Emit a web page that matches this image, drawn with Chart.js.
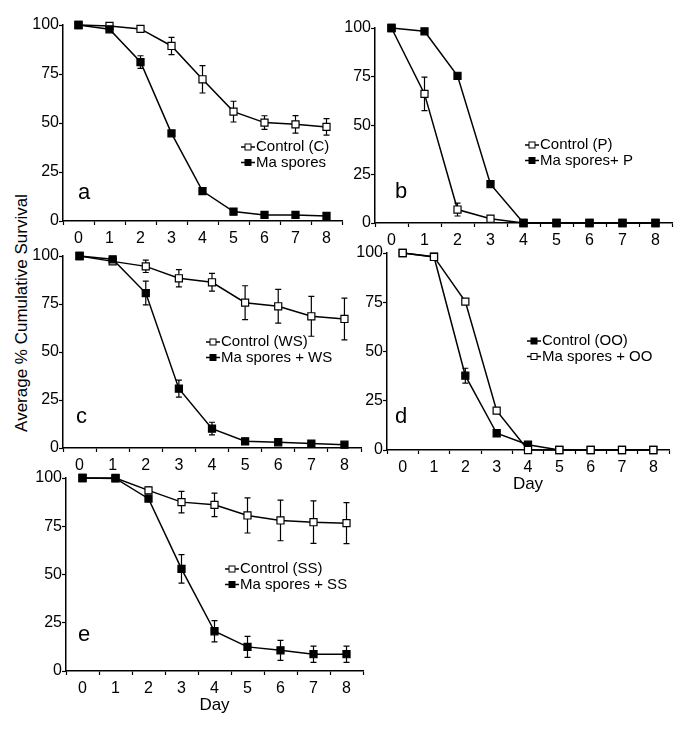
<!DOCTYPE html>
<html>
<head>
<meta charset="utf-8">
<title>Average % Cumulative Survival</title>
<script src="https://cdn.jsdelivr.net/npm/chart.js"></script>
<style>
  body { margin: 0; width: 685px; height: 735px; overflow: hidden; background: #fff; position: relative;
         font-family: 'Liberation Sans', Arial, sans-serif; }
  canvas { position: absolute; }
  #ylabel { position: absolute; left: 22px; top: 313px; transform: translate(-50%, -50%) rotate(-90deg);
            font-size: 17px; white-space: nowrap; color: #000; }
</style>
</head>
<body>
<div id="ylabel">Average % Cumulative Survival</div>
<script>
// days on the x axis
const days = ['0', '1', '2', '3', '4', '5', '6', '7', '8'];

// panel a
const controlC      = [100, 99.5, 98, 89.3, 72.3, 55.8, 50.2, 49.3, 48.0];
const controlCErr   = [0.5, 0.8, 1, 4.4, 7, 5.3, 3.5, 4.5, 4.2];
const maSpores      = [100, 97.8, 81.1, 44.7, 15.3, 4.8, 3.1, 3.1, 2.6];
const maSporesErr   = [0.5, 1, 3.2, 1, 1.5, 1.5, 1, 1, 1];

// panel b
const controlP      = [100, 66.2, 6.9, 2.2, 0, 0, 0, 0, 0];
const controlPErr   = [0, 8.6, 3.3, 1.5, 0, 0, 0, 0, 0];
const maSporesP     = [100, 98.3, 75.5, 19.9, 0, 0, 0, 0, 0];
const maSporesPErr  = [0.5, 0.8, 1.2, 1.5, 0, 0, 0, 0, 0];

// panel c
const controlWS     = [100, 97.2, 94.6, 88.4, 86.3, 75.7, 73.8, 68.6, 67.2];
const controlWSErr  = [0.5, 1, 3.2, 4.5, 4.6, 8.8, 8.8, 10.4, 10.9];
const maSporesWS    = [100, 98.3, 80.7, 30.9, 10.1, 3.5, 3.0, 2.3, 1.7];
const maSporesWSErr = [0.5, 0.8, 6.2, 4.4, 3.3, 1.5, 0.8, 1, 1];

// panel d
const controlOO     = [100, 98.1, 37.7, 8.5, 2.7, 0, 0, 0, 0];
const controlOOErr  = [0, 0.8, 3.8, 1.5, 0.5, 0, 0, 0, 0];
const maSporesOO    = [100, 98, 75.3, 20, 0, 0, 0, 0, 0];
const maSporesOOErr = [0, 0.5, 0.8, 1, 0, 0, 0, 0, 0];

// panel e
const controlSS     = [100, 100, 93.6, 87.5, 86.1, 80.6, 78.0, 77.1, 76.6];
const controlSSErr  = [0, 0.5, 1.7, 5.6, 6.1, 9.1, 10.5, 11, 10.6];
const maSporesSS    = [100, 99.8, 89.3, 52.9, 20.6, 12.5, 10.7, 8.7, 8.7];
const maSporesSSErr = [0, 0.5, 1, 7.4, 5.5, 5.4, 5.2, 4.2, 4.2];

const FONT = "'Liberation Sans', Arial, sans-serif";
Chart.defaults.font.family = FONT;
Chart.defaults.color = '#000';

// vertical error bars with caps, drawn under the markers
const errorBars = {
  id: 'errorBars',
  beforeDatasetsDraw(chart) {
    const ctx = chart.ctx, y = chart.scales.y;
    ctx.save();
    ctx.strokeStyle = '#000';
    ctx.lineWidth = 1.2;
    chart.data.datasets.forEach((ds, i) => {
      const meta = chart.getDatasetMeta(i);
      (ds.errors || []).forEach((e, j) => {
        if (!e) return;
        const x = meta.data[j].x;
        const top = y.getPixelForValue(ds.data[j] + e);
        const bot = y.getPixelForValue(Math.max(0, ds.data[j] - e));
        ctx.beginPath();
        ctx.moveTo(x, top); ctx.lineTo(x, bot);
        ctx.moveTo(x - 3, top); ctx.lineTo(x + 3, top);
        ctx.moveTo(x - 3, bot); ctx.lineTo(x + 3, bot);
        ctx.stroke();
      });
    });
    ctx.restore();
  }
};

// panel letter and the small legend inside the plot
const panelNotes = {
  id: 'panelNotes',
  afterDraw(chart, args, opts) {
    const ctx = chart.ctx;
    const ox = opts.offsetX, oy = opts.offsetY;
    ctx.save();
    ctx.fillStyle = '#000';
    ctx.font = '22px ' + FONT;
    ctx.textBaseline = 'alphabetic';
    ctx.fillText(opts.letter, opts.letterX - ox, opts.letterY - oy);
    ctx.font = '15px ' + FONT;
    ctx.textBaseline = 'middle';
    chart.data.datasets.forEach((ds, i) => {
      const x = opts.legendX - ox, y = opts.legendY - oy + i * 15.5;
      ctx.strokeStyle = '#000';
      ctx.lineWidth = 1.5;
      ctx.beginPath(); ctx.moveTo(x, y); ctx.lineTo(x + 14, y); ctx.stroke();
      ctx.lineWidth = 1;
      ctx.fillStyle = ds.pointBackgroundColor;
      ctx.fillRect(x + 4, y - 3, 6, 6);
      ctx.strokeRect(x + 4, y - 3, 6, 6);
      ctx.fillStyle = '#000';
      ctx.fillText(ds.label, x + 15, y);
    });
    ctx.restore();
  }
};

function series(label, data, errors, filled, order) {
  return {
    label, data, errors, order,
    borderColor: '#000', borderWidth: 1.5,
    pointStyle: 'rect', pointRadius: 5, pointBorderWidth: 1.2,
    pointBorderColor: '#000', pointBackgroundColor: filled ? '#000' : '#fff',
    tension: 0, fill: false, clip: false
  };
}

const YW = 45, PT = 10, PR = 12;

function panel(area, hx, datasets, notes, withDay) {
  const canvas = document.createElement('canvas');
  const left = area.l - YW, top = area.t - PT;
  canvas.width = area.r - area.l + YW + PR;
  canvas.height = area.b - area.t + PT + hx;
  canvas.style.left = left + 'px';
  canvas.style.top = top + 'px';
  document.body.appendChild(canvas);

  const axisGrid = { drawOnChartArea: false, drawTicks: true, tickLength: 4, tickColor: '#000', tickWidth: 1.2 };
  const axisBorder = { color: '#000', width: 1.5 };

  return new Chart(canvas, {
    type: 'line',
    data: { labels: days, datasets },
    options: {
      responsive: false,
      animation: false,
      layout: { padding: { top: PT, right: PR, left: 0, bottom: 0 } },
      plugins: {
        legend: { display: false },
        tooltip: { enabled: false },
        panelNotes: Object.assign({ offsetX: left, offsetY: top }, notes)
      },
      scales: {
        x: {
          type: 'category',
          offset: true,
          grid: Object.assign({ offset: true }, axisGrid),
          border: axisBorder,
          ticks: { color: '#000', padding: 4, font: { size: 16 }, maxRotation: 0, autoSkip: false },
          title: { display: !!withDay, text: 'Day', color: '#000', font: { size: 17 }, padding: { top: 0, bottom: 2 } },
          afterFit: s => { s.height = hx; }
        },
        y: {
          min: 0, max: 100,
          grid: axisGrid,
          border: axisBorder,
          ticks: { stepSize: 25, color: '#000', padding: 0, font: { size: 16 } },
          afterFit: s => { s.width = YW; }
        }
      }
    },
    plugins: [errorBars, panelNotes]
  });
}

panel({ l: 63, t: 25, r: 342, b: 221 }, 30, [
  series('Control (C)', controlC, controlCErr, false, 1),
  series('Ma spores', maSpores, maSporesErr, true, 0)
], { letter: 'a', letterX: 78, letterY: 199, legendX: 241, legendY: 147 });

panel({ l: 375, t: 28, r: 672, b: 223 }, 30, [
  series('Control (P)', controlP, controlPErr, false, 1),
  series('Ma spores+ P', maSporesP, maSporesPErr, true, 0)
], { letter: 'b', letterX: 395, letterY: 198, legendX: 525, legendY: 145 });

panel({ l: 63, t: 256, r: 361, b: 448 }, 30, [
  series('Control (WS)', controlWS, controlWSErr, false, 1),
  series('Ma spores + WS', maSporesWS, maSporesWSErr, true, 0)
], { letter: 'c', letterX: 76, letterY: 423, legendX: 206, legendY: 342 });

panel({ l: 387, t: 253, r: 669, b: 450 }, 47, [
  series('Control (OO)', controlOO, controlOOErr, true, 1),
  series('Ma spores + OO', maSporesOO, maSporesOOErr, false, 0)
], { letter: 'd', letterX: 395, letterY: 423, legendX: 527, legendY: 341 }, true);

panel({ l: 66, t: 478, r: 363, b: 671 }, 47, [
  series('Control (SS)', controlSS, controlSSErr, false, 1),
  series('Ma spores + SS', maSporesSS, maSporesSSErr, true, 0)
], { letter: 'e', letterX: 78, letterY: 641, legendX: 225, legendY: 569 }, true);
</script>
</body>
</html>
